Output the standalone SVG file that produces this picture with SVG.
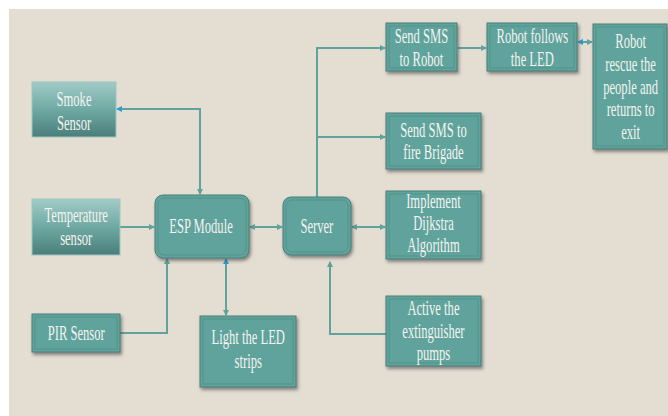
<svg xmlns="http://www.w3.org/2000/svg" width="668" height="416" viewBox="0 0 668 416">
<defs>
<style>
.box{fill:#5fa39c;stroke:#4a7f7a;stroke-width:1;}
.inner{fill:none;stroke:#4f8f88;stroke-width:1;opacity:0.8}
.grad{fill:url(#g);stroke:#9cc6c1;stroke-width:1}
.conn{fill:none;stroke:#5fa39c;stroke-width:2}
.t{font-family:"Liberation Serif","Times New Roman",serif;font-size:20px;fill:#f4f4f0;text-anchor:middle}
</style>
<linearGradient id="g" x1="0" y1="0" x2="0" y2="1">
<stop offset="0" stop-color="#a2cbc7"/>
<stop offset="0.5" stop-color="#6fa9a3"/>
<stop offset="1" stop-color="#4a7e7a"/>
</linearGradient>
<filter id="sh" x="-10%" y="-10%" width="130%" height="130%">
<feDropShadow dx="1.5" dy="2.5" stdDeviation="1.5" flood-color="#3a3a3a" flood-opacity="0.55"/>
</filter>
<marker id="ah" markerWidth="6" markerHeight="6" refX="5" refY="3" orient="auto" markerUnits="userSpaceOnUse">
<path d="M0,0 L6,3 L0,6 z" fill="#5fa39c"/>
</marker>
<marker id="as" markerWidth="6" markerHeight="6" refX="1" refY="3" orient="auto" markerUnits="userSpaceOnUse">
<path d="M6,0 L0,3 L6,6 z" fill="#5fa39c"/>
</marker>
<marker id="ab" markerWidth="6" markerHeight="6" refX="1" refY="3" orient="auto" markerUnits="userSpaceOnUse">
<path d="M6,0 L0,3 L6,6 z" fill="#2a9fd6"/>
</marker>
</defs>
<rect x="0" y="0" width="668" height="416" fill="#ffffff"/>
<rect x="9" y="9" width="659" height="407" fill="#e3ddd2"/>

<g id="connectors">
<path class="conn" d="M117,109 H200 V194" marker-start="url(#ab)" marker-end="url(#ah)"/>
<path class="conn" d="M120,227 H154" marker-end="url(#ah)"/>
<path class="conn" d="M120,333 H167 V259" marker-end="url(#ah)"/>
<path class="conn" d="M226,259 V315" marker-start="url(#ab)" marker-end="url(#ah)"/>
<path class="conn" d="M250,227 H282" marker-start="url(#as)" marker-end="url(#ah)"/>
<path class="conn" d="M352,227 H385" marker-start="url(#as)" marker-end="url(#ah)"/>
<path class="conn" d="M386,334 H330 V262" marker-end="url(#ah)"/>
<path class="conn" d="M317,197 V48 H385" marker-end="url(#ah)"/>
<path class="conn" d="M317,137 H385" marker-end="url(#ah)"/>
<path class="conn" d="M458,48 H486" marker-end="url(#ah)"/>
<path class="conn" d="M578,42 H592" marker-start="url(#ab)" marker-end="url(#ah)"/>
</g>

<g id="smoke">
<rect class="grad" x="32" y="82" width="84" height="55"/>
</g>
<g id="temperature">
<rect class="grad" x="32" y="199" width="88" height="56"/>
</g>
<g id="pir">
<rect class="box" x="32" y="314" width="88" height="38" filter="url(#sh)"/>
<rect class="inner" x="35" y="317" width="82" height="32"/>
</g>
<g id="esp">
<rect class="box" x="155" y="195" width="94" height="63" rx="8" filter="url(#sh)"/>
<rect class="inner" x="158" y="198" width="88" height="57" rx="6"/>
</g>
<g id="server">
<rect class="box" x="283" y="197" width="68" height="58" rx="8" filter="url(#sh)"/>
<rect class="inner" x="286" y="200" width="62" height="52" rx="6"/>
</g>
<g id="led">
<rect class="box" x="200" y="316" width="96" height="71" filter="url(#sh)"/>
<rect class="inner" x="203" y="319" width="90" height="65"/>
</g>
<g id="smsrobot">
<rect class="box" x="386" y="23" width="71" height="48" filter="url(#sh)"/>
<rect class="inner" x="389" y="26" width="65" height="42"/>
</g>
<g id="robotfollows">
<rect class="box" x="487" y="23" width="90" height="48" filter="url(#sh)"/>
<rect class="inner" x="490" y="26" width="84" height="42"/>
</g>
<g id="robotrescue">
<rect class="box" x="593" y="24" width="74" height="125" filter="url(#sh)"/>
<rect class="inner" x="596" y="27" width="68" height="119"/>
</g>
<g id="smsfire">
<rect class="box" x="386" y="113" width="95" height="56" filter="url(#sh)"/>
<rect class="inner" x="389" y="116" width="89" height="50"/>
</g>
<g id="dijkstra">
<rect class="box" x="386" y="191" width="95" height="68" filter="url(#sh)"/>
<rect class="inner" x="389" y="194" width="89" height="62"/>
</g>
<g id="pumps">
<rect class="box" x="386" y="296" width="95" height="70" filter="url(#sh)"/>
<rect class="inner" x="389" y="299" width="89" height="64"/>
</g>

<g id="labels" transform="scale(0.63 1)">
<text class="t" x="117.5" y="106">Smoke</text>
<text class="t" x="117.5" y="130">Sensor</text>
<text class="t" x="121" y="222">Temperature</text>
<text class="t" x="121" y="245">sensor</text>
<text class="t" x="121" y="340">PIR Sensor</text>
<text class="t" x="319" y="233">ESP Module</text>
<text class="t" x="503" y="233">Server</text>
<text class="t" x="394" y="344">Light the LED</text>
<text class="t" x="394" y="368">strips</text>
<text class="t" x="669" y="43">Send SMS</text>
<text class="t" x="669" y="66">to Robot</text>
<text class="t" x="845" y="43">Robot follows</text>
<text class="t" x="845" y="66">the LED</text>
<text class="t" x="1001" y="48">Robot</text>
<text class="t" x="1001" y="71">rescue the</text>
<text class="t" x="1001" y="94">people and</text>
<text class="t" x="1001" y="116">returns to</text>
<text class="t" x="1001" y="139">exit</text>
<text class="t" x="688" y="137">Send SMS to</text>
<text class="t" x="688" y="159">fire Brigade</text>
<text class="t" x="688" y="208">Implement</text>
<text class="t" x="688" y="230">Dijkstra</text>
<text class="t" x="688" y="252">Algorithm</text>
<text class="t" x="688" y="315">Active the</text>
<text class="t" x="688" y="338">extinguisher</text>
<text class="t" x="688" y="360">pumps</text>
</g>
</svg>
